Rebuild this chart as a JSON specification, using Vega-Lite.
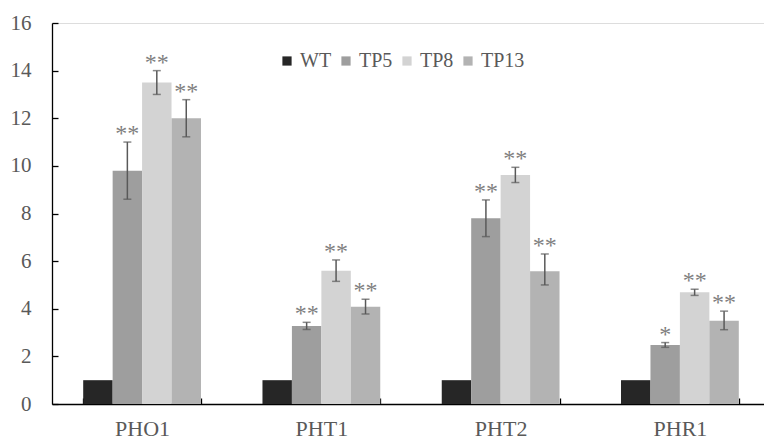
{
  "$schema": "https://vega.github.io/schema/vega-lite/v6.json",
  "width": 712,
  "height": 381,
  "autosize": "none",
  "padding": {"left": 52, "top": 23, "right": 0, "bottom": 37},
  "background": "white",
  "data": {"values": [
    {"gene": "PHO1", "group": "WT", "value": 1, "lo": null, "hi": null, "sig": ""},
    {"gene": "PHO1", "group": "TP5", "value": 9.8, "lo": 8.6, "hi": 11.0, "sig": "**"},
    {"gene": "PHO1", "group": "TP8", "value": 13.5, "lo": 13.0, "hi": 14.0, "sig": "**"},
    {"gene": "PHO1", "group": "TP13", "value": 12.0, "lo": 11.22, "hi": 12.78, "sig": "**"},
    {"gene": "PHT1", "group": "WT", "value": 1, "lo": null, "hi": null, "sig": ""},
    {"gene": "PHT1", "group": "TP5", "value": 3.28, "lo": 3.13, "hi": 3.43, "sig": "**"},
    {"gene": "PHT1", "group": "TP8", "value": 5.6, "lo": 5.15, "hi": 6.05, "sig": "**"},
    {"gene": "PHT1", "group": "TP13", "value": 4.08, "lo": 3.78, "hi": 4.4, "sig": "**"},
    {"gene": "PHT2", "group": "WT", "value": 1, "lo": null, "hi": null, "sig": ""},
    {"gene": "PHT2", "group": "TP5", "value": 7.8, "lo": 7.03, "hi": 8.57, "sig": "**"},
    {"gene": "PHT2", "group": "TP8", "value": 9.62, "lo": 9.3, "hi": 9.94, "sig": "**"},
    {"gene": "PHT2", "group": "TP13", "value": 5.58, "lo": 5.0, "hi": 6.3, "sig": "**"},
    {"gene": "PHR1", "group": "WT", "value": 1, "lo": null, "hi": null, "sig": ""},
    {"gene": "PHR1", "group": "TP5", "value": 2.48, "lo": 2.38, "hi": 2.58, "sig": "*"},
    {"gene": "PHR1", "group": "TP8", "value": 4.69, "lo": 4.56, "hi": 4.82, "sig": "**"},
    {"gene": "PHR1", "group": "TP13", "value": 3.5, "lo": 3.12, "hi": 3.9, "sig": "**"}
  ]},
  "encoding": {
    "x": {
      "field": "gene", "type": "nominal",
      "sort": ["PHO1", "PHT1", "PHT2", "PHR1"],
      "scale": {"range": [0, 718], "paddingInner": 0.343, "paddingOuter": 0.174},
      "axis": {
        "title": null, "labelAngle": 0, "tickBand": "extent",
        "tickSize": -6, "labelPadding": 20,
        "labelFont": "Liberation Serif", "labelFontSize": 22, "labelColor": "#595959",
        "domainColor": "#000000", "tickColor": "#000000", "domainWidth": 1.3, "tickWidth": 1.3
      }
    },
    "xOffset": {"field": "group", "type": "nominal", "sort": ["WT", "TP5", "TP8", "TP13"], "scale": {"paddingInner": 0}}
  },
  "layer": [
    {
      "mark": {"type": "bar"},
      "encoding": {
        "y": {
          "field": "value", "type": "quantitative",
          "scale": {"domain": [0, 16], "nice": false},
          "axis": {
            "title": null, "grid": false, "values": [0, 2, 4, 6, 8, 10, 12, 14, 16],
            "tickSize": -6, "labelPadding": 27,
            "labelFont": "Liberation Serif", "labelFontSize": 21, "labelColor": "#595959",
            "domainColor": "#000000", "tickColor": "#000000", "domainWidth": 1.3, "tickWidth": 1.3
          }
        },
        "color": {
          "field": "group", "type": "nominal",
          "sort": ["WT", "TP5", "TP8", "TP13"],
          "scale": {"domain": ["WT", "TP5", "TP8", "TP13"], "range": ["#262626", "#9e9e9e", "#d3d3d3", "#b3b3b3"]},
          "legend": {
            "title": null, "orient": "none", "direction": "horizontal",
            "legendX": 225, "legendY": 28,
            "symbolType": "square", "symbolSize": 85, "symbolStrokeWidth": 0,
            "labelFont": "Liberation Serif", "labelFontSize": 20, "labelColor": "#595959",
            "columnPadding": 4, "labelOffset": 3
          }
        }
      }
    },
    {
      "transform": [{"filter": "datum.hi != null"}],
      "mark": {"type": "rule", "color": "#595959", "strokeWidth": 1.5},
      "encoding": {"y": {"field": "lo", "type": "quantitative"}, "y2": {"field": "hi"}}
    },
    {
      "transform": [{"filter": "datum.hi != null"}],
      "mark": {"type": "tick", "color": "#595959", "thickness": 1.5, "size": 8, "orient": "horizontal"},
      "encoding": {"y": {"field": "hi", "type": "quantitative"}}
    },
    {
      "transform": [{"filter": "datum.hi != null"}],
      "mark": {"type": "tick", "color": "#595959", "thickness": 1.5, "size": 8, "orient": "horizontal"},
      "encoding": {"y": {"field": "lo", "type": "quantitative"}}
    },
    {
      "transform": [{"filter": "datum.hi != null"}],
      "mark": {"type": "text", "baseline": "middle", "dy": -8, "font": "Liberation Serif", "fontSize": 24, "color": "#7f7f7f"},
      "encoding": {"y": {"field": "hi", "type": "quantitative"}, "text": {"field": "sig"}}
    }
  ]
}
